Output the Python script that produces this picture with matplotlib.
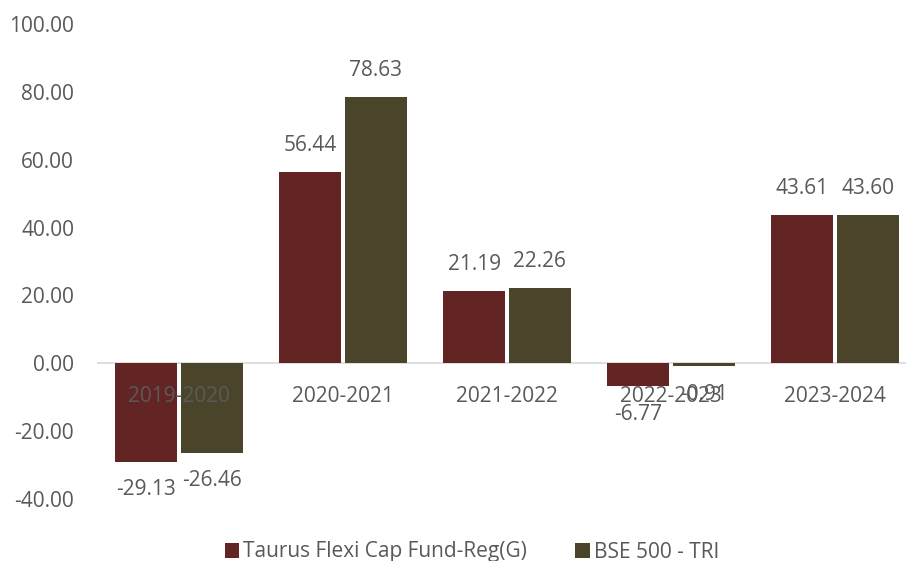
import matplotlib
matplotlib.use("Agg")
import matplotlib.pyplot as plt
import numpy as np

categories = ["2019-2020", "2020-2021", "2021-2022", "2022-2023", "2023-2024"]
taurus = [-29.13, 56.44, 21.19, -6.77, 43.61]
bse = [-26.46, 78.63, 22.26, -0.91, 43.60]
series_names = ["Taurus Flexi Cap Fund-Reg(G)", "BSE 500 - TRI"]
yticks = [-40, -20, 0, 20, 40, 60, 80, 100]

c1 = "#632523"
c2 = "#4A452A"
txt = "#595959"
plt.rcParams['font.family'] = ['Open Sans', 'DejaVu Sans']
fs = 15

W, H = 906, 561
fig = plt.figure(figsize=(W/100, H/100), dpi=100)
# axes in pixel coordinates
x0, x1 = 97, 917
y_top, y_bot = 24, 499  # 100 and -40
ax = fig.add_axes([x0/W, 1 - y_bot/H, (x1-x0)/W, (y_bot-y_top)/H])
ax.set_ylim(-40, 100)
ax.set_xlim(-0.5, len(categories) - 0.5)

x = np.arange(len(categories))
bw = 0.38
gap = 0.01
b1 = ax.bar(x - bw/2 - gap, taurus, bw, color=c1, label=series_names[0])
b2 = ax.bar(x + bw/2 + gap, bse, bw, color=c2, label=series_names[1])

for xs, vals in ((x - bw/2 - gap, taurus), (x + bw/2 + gap, bse)):
    for xi, v in zip(xs, vals):
        off = 7.8 if v >= 0 else -8.2
        ax.text(xi, v + off, f"{v:.2f}", ha="center", va="center", fontsize=fs, color=txt)

for xi, c in zip(x, categories):
    ax.text(xi, -9.7, c, ha="center", va="center", fontsize=fs, color=txt)

ax.axhline(0, color="#D9D9D9", lw=1.2, zorder=0)
for s in ax.spines.values():
    s.set_visible(False)
ax.set_xticks([])
ax.set_yticks(yticks)
ax.set_yticklabels([f"{t:.2f}" for t in yticks], fontsize=fs, color=txt)
ax.tick_params(axis="y", length=0, pad=16.5)
ax.patch.set_alpha(0)

fig.legend(handles=[b1, b2], loc="center", bbox_to_anchor=(472/W, 1 - 552/H),
           ncol=2, frameon=False, fontsize=fs, handlelength=0.7, handleheight=0.7,
           handletextpad=0.2, columnspacing=2.3, labelcolor=txt)

fig.savefig("out.png", dpi=100)
